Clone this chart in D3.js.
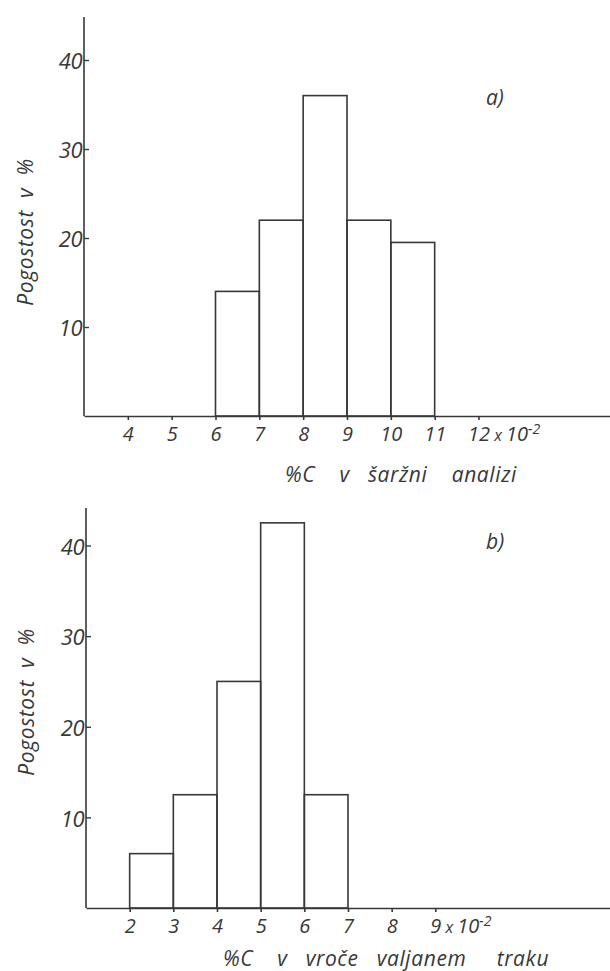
<!DOCTYPE html>
<html>
<head>
<meta charset="utf-8">
<script src="https://cdn.jsdelivr.net/npm/d3@7"></script>
<style>
  body { margin: 0; background: #ffffff; }
  svg text { font-family: "Open Sans", "DejaVu Sans", sans-serif; font-style: italic; fill: #383838; }
  .xtick text { font-size: 20px; }
  .ytick text { font-size: 22px; letter-spacing: -0.5px; }
  .title { font-size: 21px; white-space: pre; letter-spacing: 0.6px; }
  .tag { font-size: 21px; }
</style>
</head>
<body>
<svg id="chart" width="610" height="971"></svg>
<script>
// a) heat (ladle) analysis: class lower edges (x10^-2 %C) and frequency in %
const classesA = [6, 7, 8, 9, 10];
const freqA = [14, 22, 36, 22, 19.5];
const xTicksA = [4, 5, 6, 7, 8, 9, 10, 11, 12];

// b) hot-rolled strip
const classesB = [2, 3, 4, 5, 6];
const freqB = [6, 12.5, 25, 42.5, 12.5];
const xTicksB = [2, 3, 4, 5, 6, 7, 8, 9];

const yTicks = [10, 20, 30, 40];
const yTitle = "Pogostost  v  %";
const xTitleA = "%C    v   šaržni    analizi";
const xTitleB = "%C    v   vroče   valjanem     traku";
const tagA = "a)";
const tagB = "b)";

const ink = "#383838";
const svg = d3.select("#chart");

function drawPanel(p) {
  const g = svg.append("g");
  const x = d3.scaleLinear().domain(p.xDomain).range([p.left, 610]);
  const y = d3.scaleLinear().domain([0, 40]).range([p.base, p.y40]);

  // histogram bars
  const bars = p.classes.map((c, i) => ({ lo: c, hi: c + 1, v: p.freq[i] }));
  g.append("g").selectAll("rect").data(bars).join("rect")
    .attr("x", d => x(d.lo))
    .attr("width", d => x(d.hi) - x(d.lo))
    .attr("y", d => y(d.v))
    .attr("height", d => y(0) - y(d.v))
    .attr("fill", "none")
    .attr("stroke", ink)
    .attr("stroke-width", 1.6);

  // x axis
  const xa = g.append("g").attr("class", "xtick")
    .attr("transform", `translate(0,${p.base})`)
    .call(d3.axisBottom(x).tickValues(p.xTicks).tickSize(4).tickSizeOuter(0)
      .tickPadding(7).tickFormat(d3.format("d")));
  xa.attr("font-family", null).attr("font-size", null);
  xa.selectAll("path, line").attr("stroke", ink).attr("stroke-width", 1.6);

  // last tick carries the scale factor x 10^-2
  const last = xa.selectAll(".tick text").filter((d, i, n) => i === n.length - 1);
  const w = last.node().getComputedTextLength();
  last.attr("text-anchor", "start").attr("x", -w / 2);
  last.append("tspan").attr("font-size", "16px").text(" x ");
  last.append("tspan").text("10");
  last.append("tspan").attr("dy", "-0.55em").attr("font-size", "14px").text("-2");

  // y axis
  const ya = g.append("g").attr("class", "ytick")
    .attr("transform", `translate(${p.left},0)`)
    .call(d3.axisLeft(y).tickValues(yTicks).tickSize(-5).tickPadding(2));
  ya.attr("font-family", null).attr("font-size", null);
  ya.select(".domain").remove();
  ya.selectAll("line").attr("stroke", ink).attr("stroke-width", 1.4);
  ya.selectAll("text").attr("dy", "0.4em");
  g.append("line")
    .attr("x1", p.left).attr("x2", p.left)
    .attr("y1", p.base).attr("y2", p.top)
    .attr("stroke", ink).attr("stroke-width", 1.6);

  // titles
  g.append("text").attr("class", "title")
    .attr("transform", `translate(${p.yTitleX},${p.yTitleY}) rotate(-90)`)
    .attr("text-anchor", "middle")
    .text(yTitle);
  g.append("text").attr("class", "title")
    .attr("x", p.xTitleX).attr("y", p.xTitleY)
    .attr("text-anchor", "middle")
    .text(p.xTitle);
  g.append("text").attr("class", "tag")
    .attr("x", p.tagX).attr("y", p.tagY)
    .text(p.tag);
}

drawPanel({
  classes: classesA, freq: freqA, xTicks: xTicksA, xDomain: [3, 15],
  left: 84, base: 416, y40: 60, top: 17,
  yTitleX: 33, yTitleY: 232, xTitle: xTitleA, xTitleX: 401, xTitleY: 482,
  tag: tagA, tagX: 486, tagY: 105
});

drawPanel({
  classes: classesB, freq: freqB, xTicks: xTicksB, xDomain: [1, 13],
  left: 86, base: 908, y40: 545.5, top: 508,
  yTitleX: 34, yTitleY: 702, xTitle: xTitleB, xTitleX: 386, xTitleY: 966,
  tag: tagB, tagX: 486, tagY: 549
});
</script>
</body>
</html>
